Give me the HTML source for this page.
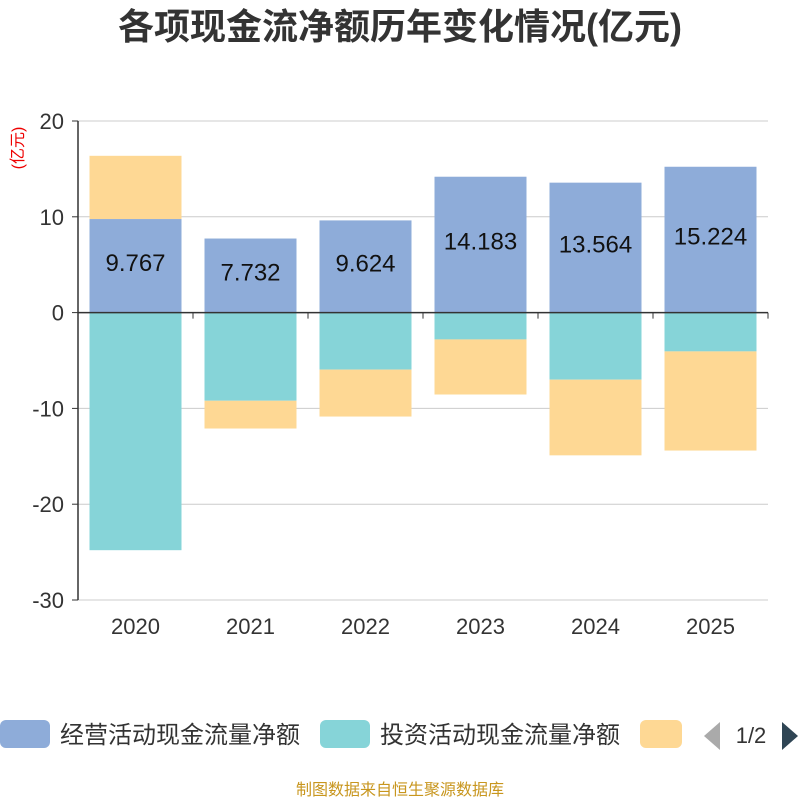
<!DOCTYPE html>
<html><head><meta charset="utf-8"><style>
body{margin:0;background:#fff;}
svg text{font-family:"Liberation Sans","Noto Sans CJK SC",sans-serif;}
</style></head><body>
<svg id="c" width="800" height="800">
<text x="400" y="39" text-anchor="middle" font-size="36" font-weight="bold" fill="#333">各项现金流净额历年变化情况(亿元)</text>
<text x="0" y="0" transform="translate(23,148) rotate(-90)" text-anchor="middle" font-size="16" fill="#e00">(亿元)</text>
<g id="grid"></g><g id="bars"></g><g id="axes"></g>
<g>
<rect x="0" y="720" width="50" height="28" rx="6" fill="#8eacd9"/>
<text x="60" y="743" font-size="24" fill="#333">经营活动现金流量净额</text>
<rect x="320" y="720" width="50" height="28" rx="6" fill="#86d4d8"/>
<text x="380" y="743" font-size="24" fill="#333">投资活动现金流量净额</text>
<rect x="640" y="720" width="42" height="28" rx="6" fill="#fed894"/>
<polygon points="720,722 720,750 704,736" fill="#aaa"/>
<text x="751" y="743" text-anchor="middle" font-size="22" fill="#333">1/2</text>
<polygon points="782,722 782,750 798,736" fill="#2f4554"/>
</g>
<text x="400" y="795" text-anchor="middle" font-size="16" fill="#c8961e">制图数据来自恒生聚源数据库</text>
</svg>
<script>
const categories=["2020","2021","2022","2023","2024","2025"];
const operating=[9.767,7.732,9.624,14.183,13.564,15.224];
const investing=[-24.8,-9.2,-5.95,-2.8,-7.0,-4.05];
const financing=[6.6,-2.9,-4.9,-5.75,-7.9,-10.35];
const yTicks=[20,10,0,-10,-20,-30];
const NS="http://www.w3.org/2000/svg";
const L=78,R=768,T=121,B=600,yMin=-30,yMax=20;
const y=v=>T+(yMax-v)/(yMax-yMin)*(B-T);
const bw=(R-L)/categories.length;
const x=i=>L+bw*i;
function mk(tag,attrs,parent){const e=document.createElementNS(NS,tag);for(const k in attrs)e.setAttribute(k,attrs[k]);parent.appendChild(e);return e;}
const grid=document.getElementById('grid'),bars=document.getElementById('bars'),axes=document.getElementById('axes');
yTicks.forEach(t=>{
 const l=mk('line',{x1:L,x2:R,y1:y(t),y2:y(t),stroke:'#ccc','stroke-width':1},grid);
 
 
 const tx=mk('text',{x:L-14,y:y(t)+8,'text-anchor':'end','font-size':22,fill:'#333'},axes);
 tx.textContent=t;
 
 
 const tk=mk('line',{x1:L-6,x2:L,y1:y(t),y2:y(t),stroke:'#333'},axes);
 
 
});
const ya=mk('line',{x1:L,x2:L,y1:T,y2:B,stroke:'#333','stroke-width':1.5},axes);


const xa=mk('line',{x1:L,x2:R,y1:y(0),y2:y(0),stroke:'#333','stroke-width':1.5},axes);


for(let i=0;i<=categories.length;i++){
 const tk=mk('line',{x1:x(i),x2:x(i),y1:y(0),y2:y(0)+6,stroke:'#333'},axes);
 
 
}
const series=[[operating,'#8eacd9','operating'],[investing,'#86d4d8','investing'],[financing,'#fed894','financing']];
categories.forEach((c,i)=>{
 let pos=0,neg=0;
 const bx=x(i)+bw*0.1,w=bw*0.8;
 series.forEach(([arr,col,name])=>{
  const v=arr[i];let a,b;
  if(v>=0){a=pos;b=pos+v;pos=b;}else{a=neg;b=neg+v;neg=b;}
  const r=mk('rect',{x:bx,y:Math.min(y(a),y(b)),width:w,height:Math.abs(y(a)-y(b)),fill:col},bars);
  
  
 });
 const lb=mk('text',{x:x(i)+bw/2,y:y(operating[i]/2)+5,'text-anchor':'middle','font-size':24,fill:'#111'},bars);
 lb.textContent=operating[i].toFixed(3);
 
 
 const xl=mk('text',{x:x(i)+bw/2,y:634,'text-anchor':'middle','font-size':22,fill:'#333'},axes);
 xl.textContent=c;
 
 
});
</script>
</body></html>
